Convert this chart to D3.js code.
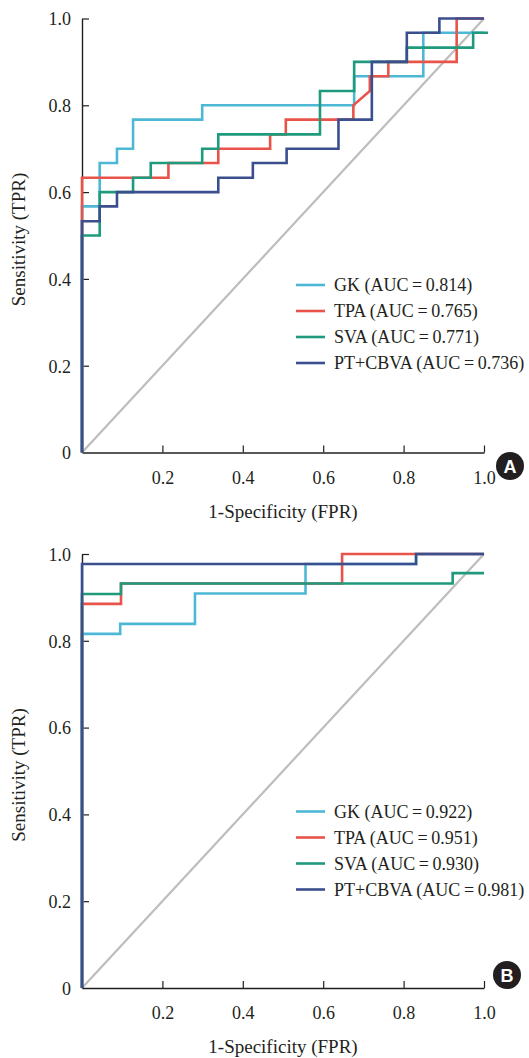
<!doctype html>
<html lang="en">
<head>
<meta charset="utf-8">
<style>
  body { margin: 0; background: #fff; }
</style>
</head>
<body>
<svg width="529" height="1058" style="font-family: 'Liberation Serif', 'Times New Roman', Tinos, 'DejaVu Serif', 'Noto Serif', serif;"></svg>
<script src="https://d3js.org/d3.v7.min.js"></script>
<script>
// ROC points [FPR, TPR]
var seriesNames = ["GK", "TPA", "SVA", "PT+CBVA"];
var colors = ["#4db8d5", "#e8534a", "#1f9a7d", "#3b4f8e"];

var gkA  = [[0,0],[0,0.567],[0.044,0.567],[0.044,0.667],[0.087,0.667],[0.087,0.7],[0.127,0.7],[0.127,0.767],[0.299,0.767],[0.299,0.8],[0.677,0.8],[0.677,0.867],[0.849,0.867],[0.849,0.967],[1,0.967]];
var tpaA = [[0,0],[0,0.633],[0.215,0.633],[0.215,0.667],[0.339,0.667],[0.339,0.7],[0.468,0.7],[0.468,0.733],[0.507,0.733],[0.507,0.767],[0.675,0.767],[0.675,0.8],[0.716,0.833],[0.716,0.867],[0.762,0.867],[0.762,0.9],[0.932,0.9],[0.932,1],[1,1]];
var svaA = [[0,0],[0,0.5],[0.044,0.5],[0.044,0.6],[0.127,0.6],[0.127,0.633],[0.171,0.633],[0.171,0.667],[0.299,0.667],[0.299,0.7],[0.339,0.7],[0.339,0.733],[0.592,0.733],[0.592,0.833],[0.677,0.833],[0.677,0.9],[0.808,0.9],[0.808,0.933],[0.973,0.933],[0.973,0.967],[1.01,0.967]];
var ptA  = [[0,0],[0,0.533],[0.044,0.533],[0.044,0.567],[0.087,0.567],[0.087,0.6],[0.339,0.6],[0.339,0.633],[0.425,0.633],[0.425,0.667],[0.509,0.667],[0.509,0.7],[0.638,0.7],[0.638,0.767],[0.721,0.767],[0.721,0.9],[0.808,0.9],[0.808,0.967],[0.889,0.967],[0.889,1],[1,1]];
var aucA = ["0.814", "0.765", "0.771", "0.736"];

var gkB  = [[0,0],[0,0.816],[0.095,0.816],[0.095,0.839],[0.281,0.839],[0.281,0.909],[0.556,0.909],[0.556,0.977],[0.831,0.977],[0.831,1],[1,1]];
var tpaB = [[0,0],[0,0.885],[0.097,0.885],[0.097,0.932],[0.647,0.932],[0.647,1],[1,1]];
var svaB = [[0,0],[0,0.908],[0.097,0.908],[0.097,0.932],[0.922,0.932],[0.922,0.956],[1,0.956]];
var ptB  = [[0,0],[0,0.977],[0.831,0.977],[0.831,1],[1,1]];
var aucB = ["0.922", "0.951", "0.930", "0.981"];

var xTicks = [0.2, 0.4, 0.6, 0.8, 1.0];
var yTicks = [0, 0.2, 0.4, 0.6, 0.8, 1.0];

var svg = d3.select("svg");
var ink = "#231f20";

function drawPanel(top, curves, aucs, letter, legendY, badge) {
  var x = d3.scaleLinear().domain([0, 1]).range([82, 484]);
  var y = d3.scaleLinear().domain([0, 1]).range([top + 434, top]);
  var g = svg.append("g");

  // chance line
  g.append("line")
      .attr("x1", x(0)).attr("y1", y(0))
      .attr("x2", x(1)).attr("y2", y(1))
      .attr("stroke", "#bdbdbd").attr("stroke-width", 2.2);

  // axes, ticks pointing inward
  var xAxis = d3.axisBottom(x).tickValues(xTicks).tickSizeInner(-7).tickSizeOuter(0)
      .tickFormat(d3.format(".1f"));
  var yAxis = d3.axisLeft(y).tickValues(yTicks).tickSizeInner(-7).tickSizeOuter(0)
      .tickFormat(function(d) { return d === 0 ? "0" : d3.format(".1f")(d); });

  var gx = g.append("g").attr("transform", "translate(0," + y(0) + ")").call(xAxis);
  var gy = g.append("g").attr("transform", "translate(" + x(0) + ",0)").call(yAxis);
  gy.selectAll(".tick").filter(function(d) { return d === 0; }).select("line").remove();
  [gx, gy].forEach(function(a) {
    a.attr("font-family", null).attr("font-size", null);
    a.select(".domain").attr("stroke", ink).attr("stroke-width", 1.4);
    a.selectAll(".tick line").attr("stroke", ink).attr("stroke-width", 1.2);
    a.selectAll("text").attr("font-size", 18).attr("fill", ink);
  });
  gx.selectAll("text").attr("y", 31).attr("dy", 0);
  gy.selectAll("text").attr("x", -11).attr("dy", "0.35em");

  // curves
  var line = d3.line().x(function(d) { return x(d[0]); }).y(function(d) { return y(d[1]); });
  curves.forEach(function(c, i) {
    g.append("path")
        .attr("d", line(c))
        .attr("fill", "none")
        .attr("stroke", colors[i])
        .attr("stroke-width", 2.6);
  });

  // legend
  seriesNames.forEach(function(n, i) {
    var ly = legendY + i * 26;
    g.append("line").attr("x1", 296).attr("x2", 325).attr("y1", ly).attr("y2", ly)
        .attr("stroke", colors[i]).attr("stroke-width", 2.6);
    g.append("text").attr("x", 334).attr("y", ly + 6).attr("font-size", 18).attr("fill", ink)
        .text(n + " (AUC\u2009=\u2009" + aucs[i] + ")");
  });

  // axis titles
  g.append("text")
      .attr("x", (x(0) + x(1)) / 2).attr("y", y(0) + 65)
      .attr("text-anchor", "middle").attr("font-size", 19).attr("fill", ink)
      .text("1-Specificity (FPR)");
  g.append("text")
      .attr("transform", "translate(25," + (top + 221) + ") rotate(-90)")
      .attr("text-anchor", "middle").attr("font-size", 19).attr("fill", ink)
      .text("Sensitivity (TPR)");

  // panel badge
  g.append("circle").attr("cx", badge[0]).attr("cy", badge[1]).attr("r", 14).attr("fill", ink);
  g.append("text").attr("x", badge[0]).attr("y", badge[1] + 6.5)
      .attr("text-anchor", "middle")
      .style("font-family", "'Liberation Sans', Arial, sans-serif")
      .style("font-weight", "bold").style("font-size", "18px").style("fill", "#fff")
      .text(letter);
}

drawPanel(18.5, [gkA, tpaA, svaA, ptA], aucA, "A", 285, [510, 466]);
drawPanel(554, [gkB, tpaB, svaB, ptB], aucB, "B", 811.5, [507, 975]);
</script>
</body>
</html>
